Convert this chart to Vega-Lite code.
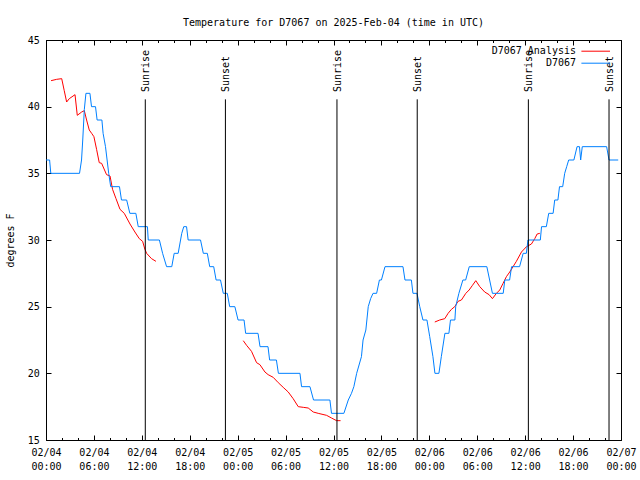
{
  "$schema": "https://vega.github.io/schema/vega-lite/v6.json",
  "width": 575,
  "height": 400,
  "autosize": {"type": "none"},
  "padding": {"left": 46, "top": 40, "right": 19, "bottom": 40},
  "background": "white",
  "title": {"text": "Temperature for D7067 on 2025-Feb-04 (time in UTC)", "font": "DejaVu Sans Mono", "fontSize": 10, "fontWeight": "normal", "color": "black", "anchor": "middle", "offset": 7},
  "config": {
    "view": {"stroke": "black", "strokeWidth": 1},
    "axis": {"grid": false, "domain": false, "labelFont": "DejaVu Sans Mono", "labelFontSize": 10, "labelColor": "black", "tickColor": "black", "tickWidth": 1, "titleFont": "DejaVu Sans Mono", "titleFontSize": 10, "titleFontWeight": "normal", "titleColor": "black"},
    "legend": {"orient": "none", "legendX": 542.7, "legendY": 4.2, "direction": "vertical", "padding": 0, "symbolType": "M-2.2,0H2.2", "symbolSize": 169, "symbolStrokeWidth": 1, "symbolOffset": 0, "rowPadding": 0, "labelAlign": "right", "labelOffset": -26.7, "labelFont": "DejaVu Sans Mono", "labelFontSize": 10, "labelColor": "black", "labelLimit": 300}
  },
  "datasets": {
    "obs": [
      {"time": "2025-02-04T00:00:00Z", "temp": 36, "series": "D7067"},
      {"time": "2025-02-04T00:27:00Z", "temp": 36, "series": "D7067"},
      {"time": "2025-02-04T00:36:00Z", "temp": 35, "series": "D7067"},
      {"time": "2025-02-04T04:12:00Z", "temp": 35, "series": "D7067"},
      {"time": "2025-02-04T04:27:00Z", "temp": 36, "series": "D7067"},
      {"time": "2025-02-04T04:36:00Z", "temp": 37.5, "series": "D7067"},
      {"time": "2025-02-04T04:48:00Z", "temp": 39.8, "series": "D7067"},
      {"time": "2025-02-04T05:00:00Z", "temp": 41, "series": "D7067"},
      {"time": "2025-02-04T05:30:00Z", "temp": 41, "series": "D7067"},
      {"time": "2025-02-04T05:42:00Z", "temp": 40, "series": "D7067"},
      {"time": "2025-02-04T06:12:00Z", "temp": 40, "series": "D7067"},
      {"time": "2025-02-04T06:24:00Z", "temp": 39, "series": "D7067"},
      {"time": "2025-02-04T07:00:00Z", "temp": 39, "series": "D7067"},
      {"time": "2025-02-04T07:09:00Z", "temp": 38, "series": "D7067"},
      {"time": "2025-02-04T07:27:00Z", "temp": 37, "series": "D7067"},
      {"time": "2025-02-04T07:39:00Z", "temp": 36, "series": "D7067"},
      {"time": "2025-02-04T07:51:00Z", "temp": 35, "series": "D7067"},
      {"time": "2025-02-04T08:06:00Z", "temp": 34, "series": "D7067"},
      {"time": "2025-02-04T09:12:00Z", "temp": 34, "series": "D7067"},
      {"time": "2025-02-04T09:27:00Z", "temp": 33, "series": "D7067"},
      {"time": "2025-02-04T10:06:00Z", "temp": 33, "series": "D7067"},
      {"time": "2025-02-04T10:30:00Z", "temp": 32, "series": "D7067"},
      {"time": "2025-02-04T11:15:00Z", "temp": 32, "series": "D7067"},
      {"time": "2025-02-04T11:33:00Z", "temp": 31, "series": "D7067"},
      {"time": "2025-02-04T12:42:00Z", "temp": 31, "series": "D7067"},
      {"time": "2025-02-04T12:48:00Z", "temp": 30, "series": "D7067"},
      {"time": "2025-02-04T14:12:00Z", "temp": 30, "series": "D7067"},
      {"time": "2025-02-04T14:36:00Z", "temp": 29, "series": "D7067"},
      {"time": "2025-02-04T15:06:00Z", "temp": 28, "series": "D7067"},
      {"time": "2025-02-04T15:45:00Z", "temp": 28, "series": "D7067"},
      {"time": "2025-02-04T16:03:00Z", "temp": 29, "series": "D7067"},
      {"time": "2025-02-04T16:33:00Z", "temp": 29, "series": "D7067"},
      {"time": "2025-02-04T17:00:00Z", "temp": 30.5, "series": "D7067"},
      {"time": "2025-02-04T17:15:00Z", "temp": 31, "series": "D7067"},
      {"time": "2025-02-04T17:36:00Z", "temp": 31, "series": "D7067"},
      {"time": "2025-02-04T17:48:00Z", "temp": 30, "series": "D7067"},
      {"time": "2025-02-04T19:21:00Z", "temp": 30, "series": "D7067"},
      {"time": "2025-02-04T19:42:00Z", "temp": 29, "series": "D7067"},
      {"time": "2025-02-04T20:12:00Z", "temp": 29, "series": "D7067"},
      {"time": "2025-02-04T20:30:00Z", "temp": 28, "series": "D7067"},
      {"time": "2025-02-04T21:00:00Z", "temp": 28, "series": "D7067"},
      {"time": "2025-02-04T21:18:00Z", "temp": 27, "series": "D7067"},
      {"time": "2025-02-04T21:51:00Z", "temp": 27, "series": "D7067"},
      {"time": "2025-02-04T22:12:00Z", "temp": 26, "series": "D7067"},
      {"time": "2025-02-04T22:42:00Z", "temp": 26, "series": "D7067"},
      {"time": "2025-02-04T23:00:00Z", "temp": 25, "series": "D7067"},
      {"time": "2025-02-04T23:39:00Z", "temp": 25, "series": "D7067"},
      {"time": "2025-02-05T00:03:00Z", "temp": 24, "series": "D7067"},
      {"time": "2025-02-05T00:48:00Z", "temp": 24, "series": "D7067"},
      {"time": "2025-02-05T01:00:00Z", "temp": 23, "series": "D7067"},
      {"time": "2025-02-05T02:33:00Z", "temp": 23, "series": "D7067"},
      {"time": "2025-02-05T02:48:00Z", "temp": 22, "series": "D7067"},
      {"time": "2025-02-05T03:48:00Z", "temp": 22, "series": "D7067"},
      {"time": "2025-02-05T04:00:00Z", "temp": 21, "series": "D7067"},
      {"time": "2025-02-05T04:51:00Z", "temp": 21, "series": "D7067"},
      {"time": "2025-02-05T05:06:00Z", "temp": 20, "series": "D7067"},
      {"time": "2025-02-05T07:48:00Z", "temp": 20, "series": "D7067"},
      {"time": "2025-02-05T08:00:00Z", "temp": 19, "series": "D7067"},
      {"time": "2025-02-05T09:03:00Z", "temp": 19, "series": "D7067"},
      {"time": "2025-02-05T09:30:00Z", "temp": 18, "series": "D7067"},
      {"time": "2025-02-05T11:33:00Z", "temp": 18, "series": "D7067"},
      {"time": "2025-02-05T11:45:00Z", "temp": 17, "series": "D7067"},
      {"time": "2025-02-05T13:18:00Z", "temp": 17, "series": "D7067"},
      {"time": "2025-02-05T13:51:00Z", "temp": 18, "series": "D7067"},
      {"time": "2025-02-05T14:15:00Z", "temp": 18.5, "series": "D7067"},
      {"time": "2025-02-05T14:33:00Z", "temp": 19, "series": "D7067"},
      {"time": "2025-02-05T14:54:00Z", "temp": 20, "series": "D7067"},
      {"time": "2025-02-05T15:30:00Z", "temp": 21.25, "series": "D7067"},
      {"time": "2025-02-05T15:42:00Z", "temp": 22.5, "series": "D7067"},
      {"time": "2025-02-05T16:03:00Z", "temp": 23.25, "series": "D7067"},
      {"time": "2025-02-05T16:21:00Z", "temp": 25, "series": "D7067"},
      {"time": "2025-02-05T16:39:00Z", "temp": 25.6, "series": "D7067"},
      {"time": "2025-02-05T16:57:00Z", "temp": 26, "series": "D7067"},
      {"time": "2025-02-05T17:24:00Z", "temp": 26, "series": "D7067"},
      {"time": "2025-02-05T17:45:00Z", "temp": 27, "series": "D7067"},
      {"time": "2025-02-05T18:00:00Z", "temp": 27, "series": "D7067"},
      {"time": "2025-02-05T18:27:00Z", "temp": 28, "series": "D7067"},
      {"time": "2025-02-05T20:42:00Z", "temp": 28, "series": "D7067"},
      {"time": "2025-02-05T20:57:00Z", "temp": 27, "series": "D7067"},
      {"time": "2025-02-05T21:45:00Z", "temp": 27, "series": "D7067"},
      {"time": "2025-02-05T21:57:00Z", "temp": 26, "series": "D7067"},
      {"time": "2025-02-05T22:27:00Z", "temp": 26, "series": "D7067"},
      {"time": "2025-02-05T22:48:00Z", "temp": 25, "series": "D7067"},
      {"time": "2025-02-05T23:12:00Z", "temp": 24, "series": "D7067"},
      {"time": "2025-02-05T23:42:00Z", "temp": 24, "series": "D7067"},
      {"time": "2025-02-06T00:03:00Z", "temp": 22.75, "series": "D7067"},
      {"time": "2025-02-06T00:27:00Z", "temp": 21.25, "series": "D7067"},
      {"time": "2025-02-06T00:42:00Z", "temp": 20, "series": "D7067"},
      {"time": "2025-02-06T01:12:00Z", "temp": 20, "series": "D7067"},
      {"time": "2025-02-06T01:30:00Z", "temp": 21.25, "series": "D7067"},
      {"time": "2025-02-06T01:57:00Z", "temp": 23, "series": "D7067"},
      {"time": "2025-02-06T02:27:00Z", "temp": 23, "series": "D7067"},
      {"time": "2025-02-06T02:39:00Z", "temp": 24, "series": "D7067"},
      {"time": "2025-02-06T03:12:00Z", "temp": 24, "series": "D7067"},
      {"time": "2025-02-06T03:18:00Z", "temp": 25, "series": "D7067"},
      {"time": "2025-02-06T03:42:00Z", "temp": 26, "series": "D7067"},
      {"time": "2025-02-06T04:12:00Z", "temp": 27, "series": "D7067"},
      {"time": "2025-02-06T04:33:00Z", "temp": 27, "series": "D7067"},
      {"time": "2025-02-06T05:00:00Z", "temp": 28, "series": "D7067"},
      {"time": "2025-02-06T07:12:00Z", "temp": 28, "series": "D7067"},
      {"time": "2025-02-06T07:54:00Z", "temp": 26, "series": "D7067"},
      {"time": "2025-02-06T09:15:00Z", "temp": 26, "series": "D7067"},
      {"time": "2025-02-06T09:27:00Z", "temp": 27, "series": "D7067"},
      {"time": "2025-02-06T10:03:00Z", "temp": 27, "series": "D7067"},
      {"time": "2025-02-06T10:18:00Z", "temp": 28, "series": "D7067"},
      {"time": "2025-02-06T11:18:00Z", "temp": 28, "series": "D7067"},
      {"time": "2025-02-06T11:45:00Z", "temp": 29, "series": "D7067"},
      {"time": "2025-02-06T12:09:00Z", "temp": 29, "series": "D7067"},
      {"time": "2025-02-06T12:21:00Z", "temp": 30, "series": "D7067"},
      {"time": "2025-02-06T13:54:00Z", "temp": 30, "series": "D7067"},
      {"time": "2025-02-06T14:03:00Z", "temp": 31, "series": "D7067"},
      {"time": "2025-02-06T14:39:00Z", "temp": 31, "series": "D7067"},
      {"time": "2025-02-06T14:57:00Z", "temp": 32, "series": "D7067"},
      {"time": "2025-02-06T15:30:00Z", "temp": 32, "series": "D7067"},
      {"time": "2025-02-06T15:42:00Z", "temp": 33, "series": "D7067"},
      {"time": "2025-02-06T16:06:00Z", "temp": 33, "series": "D7067"},
      {"time": "2025-02-06T16:18:00Z", "temp": 34, "series": "D7067"},
      {"time": "2025-02-06T16:42:00Z", "temp": 34, "series": "D7067"},
      {"time": "2025-02-06T16:57:00Z", "temp": 35, "series": "D7067"},
      {"time": "2025-02-06T17:12:00Z", "temp": 35.5, "series": "D7067"},
      {"time": "2025-02-06T17:27:00Z", "temp": 36, "series": "D7067"},
      {"time": "2025-02-06T18:06:00Z", "temp": 36, "series": "D7067"},
      {"time": "2025-02-06T18:30:00Z", "temp": 37, "series": "D7067"},
      {"time": "2025-02-06T18:48:00Z", "temp": 37, "series": "D7067"},
      {"time": "2025-02-06T18:57:00Z", "temp": 36, "series": "D7067"},
      {"time": "2025-02-06T19:09:00Z", "temp": 37, "series": "D7067"},
      {"time": "2025-02-06T22:12:00Z", "temp": 37, "series": "D7067"},
      {"time": "2025-02-06T22:30:00Z", "temp": 36, "series": "D7067"},
      {"time": "2025-02-06T23:39:00Z", "temp": 36, "series": "D7067"}
    ],
    "ana": [
      {"time": "2025-02-04T00:38:00Z", "temp": 41.95, "series": "D7067 Analysis", "seg": 1},
      {"time": "2025-02-04T01:20:00Z", "temp": 42.05, "series": "D7067 Analysis", "seg": 1},
      {"time": "2025-02-04T01:58:00Z", "temp": 42.1, "series": "D7067 Analysis", "seg": 1},
      {"time": "2025-02-04T02:17:00Z", "temp": 41.2, "series": "D7067 Analysis", "seg": 1},
      {"time": "2025-02-04T02:35:00Z", "temp": 40.35, "series": "D7067 Analysis", "seg": 1},
      {"time": "2025-02-04T02:55:00Z", "temp": 40.6, "series": "D7067 Analysis", "seg": 1},
      {"time": "2025-02-04T03:38:00Z", "temp": 40.9, "series": "D7067 Analysis", "seg": 1},
      {"time": "2025-02-04T03:55:00Z", "temp": 39.35, "series": "D7067 Analysis", "seg": 1},
      {"time": "2025-02-04T04:28:00Z", "temp": 39.6, "series": "D7067 Analysis", "seg": 1},
      {"time": "2025-02-04T04:48:00Z", "temp": 39.7, "series": "D7067 Analysis", "seg": 1},
      {"time": "2025-02-04T05:05:00Z", "temp": 39.0, "series": "D7067 Analysis", "seg": 1},
      {"time": "2025-02-04T05:25:00Z", "temp": 38.25, "series": "D7067 Analysis", "seg": 1},
      {"time": "2025-02-04T05:43:00Z", "temp": 38.0, "series": "D7067 Analysis", "seg": 1},
      {"time": "2025-02-04T06:00:00Z", "temp": 37.75, "series": "D7067 Analysis", "seg": 1},
      {"time": "2025-02-04T06:20:00Z", "temp": 36.8, "series": "D7067 Analysis", "seg": 1},
      {"time": "2025-02-04T06:40:00Z", "temp": 35.8, "series": "D7067 Analysis", "seg": 1},
      {"time": "2025-02-04T06:58:00Z", "temp": 35.75, "series": "D7067 Analysis", "seg": 1},
      {"time": "2025-02-04T07:35:00Z", "temp": 34.9, "series": "D7067 Analysis", "seg": 1},
      {"time": "2025-02-04T08:01:00Z", "temp": 34.8, "series": "D7067 Analysis", "seg": 1},
      {"time": "2025-02-04T08:20:00Z", "temp": 33.8, "series": "D7067 Analysis", "seg": 1},
      {"time": "2025-02-04T08:46:00Z", "temp": 33.1, "series": "D7067 Analysis", "seg": 1},
      {"time": "2025-02-04T09:16:00Z", "temp": 32.3, "series": "D7067 Analysis", "seg": 1},
      {"time": "2025-02-04T09:48:00Z", "temp": 32.0, "series": "D7067 Analysis", "seg": 1},
      {"time": "2025-02-04T10:31:00Z", "temp": 31.2, "series": "D7067 Analysis", "seg": 1},
      {"time": "2025-02-04T11:08:00Z", "temp": 30.6, "series": "D7067 Analysis", "seg": 1},
      {"time": "2025-02-04T11:41:00Z", "temp": 30.1, "series": "D7067 Analysis", "seg": 1},
      {"time": "2025-02-04T12:06:00Z", "temp": 29.9, "series": "D7067 Analysis", "seg": 1},
      {"time": "2025-02-04T12:23:00Z", "temp": 29.3, "series": "D7067 Analysis", "seg": 1},
      {"time": "2025-02-04T12:36:00Z", "temp": 29.0, "series": "D7067 Analysis", "seg": 1},
      {"time": "2025-02-04T13:13:00Z", "temp": 28.6, "series": "D7067 Analysis", "seg": 1},
      {"time": "2025-02-04T13:46:00Z", "temp": 28.4, "series": "D7067 Analysis", "seg": 1},
      {"time": "2025-02-05T00:42:00Z", "temp": 22.45, "series": "D7067 Analysis", "seg": 2},
      {"time": "2025-02-05T01:07:00Z", "temp": 22.1, "series": "D7067 Analysis", "seg": 2},
      {"time": "2025-02-05T01:44:00Z", "temp": 21.65, "series": "D7067 Analysis", "seg": 2},
      {"time": "2025-02-05T02:22:00Z", "temp": 20.8, "series": "D7067 Analysis", "seg": 2},
      {"time": "2025-02-05T02:47:00Z", "temp": 20.65, "series": "D7067 Analysis", "seg": 2},
      {"time": "2025-02-05T03:25:00Z", "temp": 20.1, "series": "D7067 Analysis", "seg": 2},
      {"time": "2025-02-05T03:49:00Z", "temp": 19.9, "series": "D7067 Analysis", "seg": 2},
      {"time": "2025-02-05T04:27:00Z", "temp": 19.7, "series": "D7067 Analysis", "seg": 2},
      {"time": "2025-02-05T05:05:00Z", "temp": 19.3, "series": "D7067 Analysis", "seg": 2},
      {"time": "2025-02-05T05:42:00Z", "temp": 18.95, "series": "D7067 Analysis", "seg": 2},
      {"time": "2025-02-05T06:20:00Z", "temp": 18.6, "series": "D7067 Analysis", "seg": 2},
      {"time": "2025-02-05T06:57:00Z", "temp": 18.1, "series": "D7067 Analysis", "seg": 2},
      {"time": "2025-02-05T07:35:00Z", "temp": 17.5, "series": "D7067 Analysis", "seg": 2},
      {"time": "2025-02-05T08:13:00Z", "temp": 17.45, "series": "D7067 Analysis", "seg": 2},
      {"time": "2025-02-05T08:50:00Z", "temp": 17.4, "series": "D7067 Analysis", "seg": 2},
      {"time": "2025-02-05T09:28:00Z", "temp": 17.1, "series": "D7067 Analysis", "seg": 2},
      {"time": "2025-02-05T10:05:00Z", "temp": 17.0, "series": "D7067 Analysis", "seg": 2},
      {"time": "2025-02-05T11:08:00Z", "temp": 16.85, "series": "D7067 Analysis", "seg": 2},
      {"time": "2025-02-05T11:45:00Z", "temp": 16.65, "series": "D7067 Analysis", "seg": 2},
      {"time": "2025-02-05T12:23:00Z", "temp": 16.45, "series": "D7067 Analysis", "seg": 2},
      {"time": "2025-02-05T12:53:00Z", "temp": 16.45, "series": "D7067 Analysis", "seg": 2},
      {"time": "2025-02-06T00:41:00Z", "temp": 23.85, "series": "D7067 Analysis", "seg": 3},
      {"time": "2025-02-06T01:18:00Z", "temp": 24.0, "series": "D7067 Analysis", "seg": 3},
      {"time": "2025-02-06T01:56:00Z", "temp": 24.1, "series": "D7067 Analysis", "seg": 3},
      {"time": "2025-02-06T02:21:00Z", "temp": 24.5, "series": "D7067 Analysis", "seg": 3},
      {"time": "2025-02-06T02:46:00Z", "temp": 24.8, "series": "D7067 Analysis", "seg": 3},
      {"time": "2025-02-06T03:11:00Z", "temp": 25.0, "series": "D7067 Analysis", "seg": 3},
      {"time": "2025-02-06T03:36:00Z", "temp": 25.4, "series": "D7067 Analysis", "seg": 3},
      {"time": "2025-02-06T04:01:00Z", "temp": 25.5, "series": "D7067 Analysis", "seg": 3},
      {"time": "2025-02-06T04:34:00Z", "temp": 26.0, "series": "D7067 Analysis", "seg": 3},
      {"time": "2025-02-06T04:59:00Z", "temp": 26.25, "series": "D7067 Analysis", "seg": 3},
      {"time": "2025-02-06T05:24:00Z", "temp": 26.6, "series": "D7067 Analysis", "seg": 3},
      {"time": "2025-02-06T05:49:00Z", "temp": 26.95, "series": "D7067 Analysis", "seg": 3},
      {"time": "2025-02-06T06:19:00Z", "temp": 26.5, "series": "D7067 Analysis", "seg": 3},
      {"time": "2025-02-06T06:56:00Z", "temp": 26.1, "series": "D7067 Analysis", "seg": 3},
      {"time": "2025-02-06T07:29:00Z", "temp": 25.9, "series": "D7067 Analysis", "seg": 3},
      {"time": "2025-02-06T07:54:00Z", "temp": 25.6, "series": "D7067 Analysis", "seg": 3},
      {"time": "2025-02-06T08:24:00Z", "temp": 26.0, "series": "D7067 Analysis", "seg": 3},
      {"time": "2025-02-06T08:49:00Z", "temp": 26.25, "series": "D7067 Analysis", "seg": 3},
      {"time": "2025-02-06T09:14:00Z", "temp": 26.75, "series": "D7067 Analysis", "seg": 3},
      {"time": "2025-02-06T09:39:00Z", "temp": 27.25, "series": "D7067 Analysis", "seg": 3},
      {"time": "2025-02-06T10:04:00Z", "temp": 27.6, "series": "D7067 Analysis", "seg": 3},
      {"time": "2025-02-06T10:29:00Z", "temp": 28.0, "series": "D7067 Analysis", "seg": 3},
      {"time": "2025-02-06T10:54:00Z", "temp": 28.4, "series": "D7067 Analysis", "seg": 3},
      {"time": "2025-02-06T11:32:00Z", "temp": 29.1, "series": "D7067 Analysis", "seg": 3},
      {"time": "2025-02-06T12:10:00Z", "temp": 29.5, "series": "D7067 Analysis", "seg": 3},
      {"time": "2025-02-06T12:47:00Z", "temp": 29.7, "series": "D7067 Analysis", "seg": 3},
      {"time": "2025-02-06T13:12:00Z", "temp": 30.1, "series": "D7067 Analysis", "seg": 3},
      {"time": "2025-02-06T13:30:00Z", "temp": 30.45, "series": "D7067 Analysis", "seg": 3},
      {"time": "2025-02-06T13:50:00Z", "temp": 30.5, "series": "D7067 Analysis", "seg": 3}
    ],
    "sun": [
      {"time": "2025-02-04T12:26:00Z", "label": "Sunrise"},
      {"time": "2025-02-04T22:28:00Z", "label": "Sunset"},
      {"time": "2025-02-05T12:26:00Z", "label": "Sunrise"},
      {"time": "2025-02-05T22:29:00Z", "label": "Sunset"},
      {"time": "2025-02-06T12:24:00Z", "label": "Sunrise"},
      {"time": "2025-02-06T22:30:00Z", "label": "Sunset"}
    ]
  },
  "resolve": {"axis": {"x": "independent", "y": "independent"}},
  "layer": [
    {
      "data": {"name": "ana"},
      "mark": {"type": "line", "strokeWidth": 1},
      "encoding": {
        "x": {"field": "time", "type": "temporal", "scale": {"type": "utc", "domain": [1738627200000, 1738886400000]}, "axis": {"orient": "bottom", "values": [1738627200000, 1738634400000, 1738641600000, 1738648800000, 1738656000000, 1738663200000, 1738670400000, 1738677600000, 1738684800000, 1738692000000, 1738699200000, 1738706400000, 1738713600000, 1738720800000, 1738728000000, 1738735200000, 1738742400000, 1738749600000, 1738756800000, 1738764000000, 1738771200000, 1738778400000, 1738785600000, 1738792800000, 1738800000000, 1738807200000, 1738814400000, 1738821600000, 1738828800000, 1738836000000, 1738843200000, 1738850400000, 1738857600000, 1738864800000, 1738872000000, 1738879200000, 1738886400000], "labels": false, "ticks": true, "tickSize": -2.5, "title": null}},
        "y": {"field": "temp", "type": "quantitative", "scale": {"domain": [15, 45], "nice": false, "zero": false}, "axis": null},
        "color": {"field": "series", "type": "nominal", "scale": {"domain": ["D7067 Analysis", "D7067"], "range": ["#ff0000", "#0080ff"]}, "legend": {"title": null}},
        "detail": {"field": "seg", "type": "nominal"}
      }
    },
    {
      "data": {"name": "obs"},
      "mark": {"type": "line", "strokeWidth": 1},
      "encoding": {
        "x": {"field": "time", "type": "temporal", "scale": {"type": "utc", "domain": [1738627200000, 1738886400000]}, "axis": {"orient": "top", "values": [1738627200000, 1738634400000, 1738641600000, 1738648800000, 1738656000000, 1738663200000, 1738670400000, 1738677600000, 1738684800000, 1738692000000, 1738699200000, 1738706400000, 1738713600000, 1738720800000, 1738728000000, 1738735200000, 1738742400000, 1738749600000, 1738756800000, 1738764000000, 1738771200000, 1738778400000, 1738785600000, 1738792800000, 1738800000000, 1738807200000, 1738814400000, 1738821600000, 1738828800000, 1738836000000, 1738843200000, 1738850400000, 1738857600000, 1738864800000, 1738872000000, 1738879200000, 1738886400000], "labels": false, "ticks": true, "tickSize": -2.5, "title": null}},
        "y": {"field": "temp", "type": "quantitative", "scale": {"domain": [15, 45], "nice": false, "zero": false}, "axis": null},
        "color": {"field": "series", "type": "nominal", "scale": {"domain": ["D7067 Analysis", "D7067"], "range": ["#ff0000", "#0080ff"]}, "legend": {"title": null}}
      }
    },
    {
      "data": {"name": "sun"},
      "mark": {"type": "rule", "color": "black", "strokeWidth": 1},
      "encoding": {
        "x": {"field": "time", "type": "temporal", "scale": {"type": "utc", "domain": [1738627200000, 1738886400000]}, "axis": {"orient": "bottom", "values": [1738627200000, 1738648800000, 1738670400000, 1738692000000, 1738713600000, 1738735200000, 1738756800000, 1738778400000, 1738800000000, 1738821600000, 1738843200000, 1738864800000, 1738886400000], "labels": false, "ticks": true, "tickSize": -5, "title": null}},
        "y": {"datum": 40.55, "type": "quantitative", "scale": {"domain": [15, 45], "nice": false, "zero": false}, "axis": {"orient": "left", "values": [15, 20, 25, 30, 35, 40, 45], "labels": false, "ticks": true, "tickSize": -5, "title": null}},
        "y2": {"datum": 15}
      }
    },
    {
      "data": {"name": "sun"},
      "mark": {"type": "text", "angle": 270, "align": "left", "baseline": "middle", "dy": 1, "font": "DejaVu Sans Mono", "fontSize": 10, "color": "black"},
      "encoding": {
        "x": {"field": "time", "type": "temporal", "scale": {"type": "utc", "domain": [1738627200000, 1738886400000]}, "axis": {"orient": "top", "values": [1738627200000, 1738648800000, 1738670400000, 1738692000000, 1738713600000, 1738735200000, 1738756800000, 1738778400000, 1738800000000, 1738821600000, 1738843200000, 1738864800000, 1738886400000], "labels": false, "ticks": true, "tickSize": -5, "title": null}},
        "y": {"datum": 41.1, "type": "quantitative", "scale": {"domain": [15, 45], "nice": false, "zero": false}, "axis": {"orient": "right", "values": [15, 20, 25, 30, 35, 40, 45], "labels": false, "ticks": true, "tickSize": -5, "title": null}},
        "text": {"field": "label"}
      }
    },
    {
      "data": {"name": "sun"},
      "mark": {"type": "rule", "opacity": 0},
      "encoding": {
        "x": {"field": "time", "type": "temporal", "scale": {"type": "utc", "domain": [1738627200000, 1738886400000]}, "axis": {"orient": "bottom", "values": [1738627200000, 1738648800000, 1738670400000, 1738692000000, 1738713600000, 1738735200000, 1738756800000, 1738778400000, 1738800000000, 1738821600000, 1738843200000, 1738864800000, 1738886400000], "ticks": false, "labelExpr": "[utcFormat(datum.value, '%m/%d'), utcFormat(datum.value, '%H:%M')]", "labelPadding": 7, "labelBaseline": "top", "labelAlign": "center", "labelLineHeight": 14.5, "labelFlush": false, "labelOverlap": false, "title": null}},
        "y": {"datum": 40.55, "type": "quantitative", "scale": {"domain": [15, 45], "nice": false, "zero": false}, "axis": {"orient": "left", "values": [15, 20, 25, 30, 35, 40, 45], "ticks": false, "labelPadding": 6.7, "labelFlush": false, "labelOverlap": false, "title": "degrees F", "titleAngle": 270, "titleX": -36, "titleY": 200, "titleAlign": "center", "titleBaseline": "middle"}},
        "y2": {"datum": 15}
      }
    }
  ]
}
